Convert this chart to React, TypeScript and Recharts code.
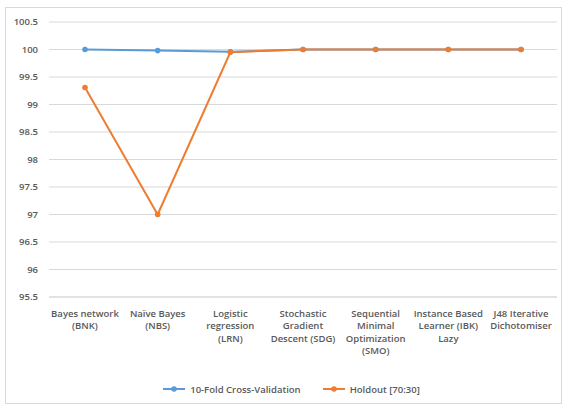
import React from "react";
import { LineChart, Line, XAxis, YAxis, CartesianGrid, Legend } from "recharts";

const categories = [
  "Bayes network (BNK)",
  "Naïve Bayes (NBS)",
  "Logistic regression (LRN)",
  "Stochastic Gradient Descent (SDG)",
  "Sequential Minimal Optimization (SMO)",
  "Instance Based Learner (IBK) Lazy",
  "J48 Iterative Dichotomiser",
];
const categoryLines = [
  ["Bayes network", "(BNK)"],
  ["Naïve Bayes", "(NBS)"],
  ["Logistic", "regression", "(LRN)"],
  ["Stochastic", "Gradient", "Descent (SDG)"],
  ["Sequential", "Minimal", "Optimization", "(SMO)"],
  ["Instance Based", "Learner (IBK)", "Lazy"],
  ["J48 Iterative", "Dichotomiser"],
];
const crossValidation = [100, 99.98, 99.96, 100, 100, 100, 100];
const holdout = [99.31, 97, 99.95, 100, 100, 100, 100];
const yTicks = [95.5, 96, 96.5, 97, 97.5, 98, 98.5, 99, 99.5, 100, 100.5];
const seriesNames = ["10-Fold Cross-Validation", "Holdout [70:30]"];

const BLUE = "#5B9BD5";
const ORANGE = "#ED7D31";
const TEXT = "#595959";
const FONT = "'Open Sans', 'Liberation Sans', sans-serif";
const FS = 9.5;
const FW = 600;

const data = categories.map((c, i) => ({
  name: c,
  idx: i,
  cv: crossValidation[i],
  ho: holdout[i],
}));

const XTick = (props: any) => {
  const { x, y, payload } = props;
  const lines = categoryLines[payload.index] || [payload.value];
  return (
    <text
      x={x}
      y={y}
      textAnchor="middle"
      fill={TEXT}
      fontSize={FS}
      fontWeight={FW}
      fontFamily={FONT}
    >
      {lines.map((l: string, i: number) => (
        <tspan key={i} x={x} dy={i === 0 ? 12 : 12.3}>
          {l}
        </tspan>
      ))}
    </text>
  );
};

const LegendContent = () => {
  const items = [
    { name: seriesNames[0], color: BLUE },
    { name: seriesNames[1], color: ORANGE },
  ];
  return (
    <div
      style={{
        display: "flex",
        justifyContent: "center",
        alignItems: "center",
        height: 24,
        gap: 22,
        paddingLeft: 26,
        fontFamily: FONT,
        fontSize: FS,
        fontWeight: FW,
        color: TEXT,
      }}
    >
      {items.map((it) => (
        <div key={it.name} style={{ display: "flex", alignItems: "center" }}>
          <svg width={22} height={8} style={{ marginRight: 5 }}>
            <line x1={0} y1={4} x2={22} y2={4} stroke={it.color} strokeWidth={2} />
            <circle cx={11} cy={4} r={2.8} fill={it.color} />
          </svg>
          <span>{it.name}</span>
        </div>
      ))}
    </div>
  );
};

export default function App() {
  return (
    <div
      style={{
        position: "absolute",
        left: 0,
        top: 0,
        width: 566,
        height: 408,
        background: "#fff",
      }}
    >
      <div
        style={{
          position: "absolute",
          left: 5,
          top: 7,
          width: 555,
          height: 395,
          border: "1px solid #d9d9d9",
        }}
      />
      <div style={{ position: "absolute", left: 0, top: 0 }}>
        <LineChart
          width={566}
          height={408}
          data={data}
          margin={{ top: 22, right: 9, left: 0, bottom: 7 }}
        >
          <CartesianGrid vertical={false} stroke="#d9d9d9" />
          <XAxis
            dataKey="name"
            interval={0}
            height={80}
            padding={{ left: 36, right: 36 }}
            tick={<XTick />}
            tickLine={false}
            axisLine={{ stroke: "#d9d9d9" }}
          />
          <YAxis
            width={49}
            domain={[95.5, 100.5]}
            ticks={yTicks}
            interval={0}
            tickLine={false}
            axisLine={false}
            tickSize={0}
            tickMargin={11}
            tick={{ fill: TEXT, fontSize: FS, fontWeight: FW, fontFamily: FONT }}
          />
          <Legend verticalAlign="bottom" content={<LegendContent />} />
          <Line
            dataKey="cv"
            name={seriesNames[0]}
            stroke={BLUE}
            strokeWidth={2}
            dot={{ r: 2.8, fill: BLUE, stroke: BLUE, strokeWidth: 0 }}
            isAnimationActive={false}
          />
          <Line
            dataKey="ho"
            name={seriesNames[1]}
            stroke={ORANGE}
            strokeWidth={2}
            dot={{ r: 2.8, fill: ORANGE, stroke: ORANGE, strokeWidth: 0 }}
            isAnimationActive={false}
          />
        </LineChart>
      </div>
    </div>
  );
}
